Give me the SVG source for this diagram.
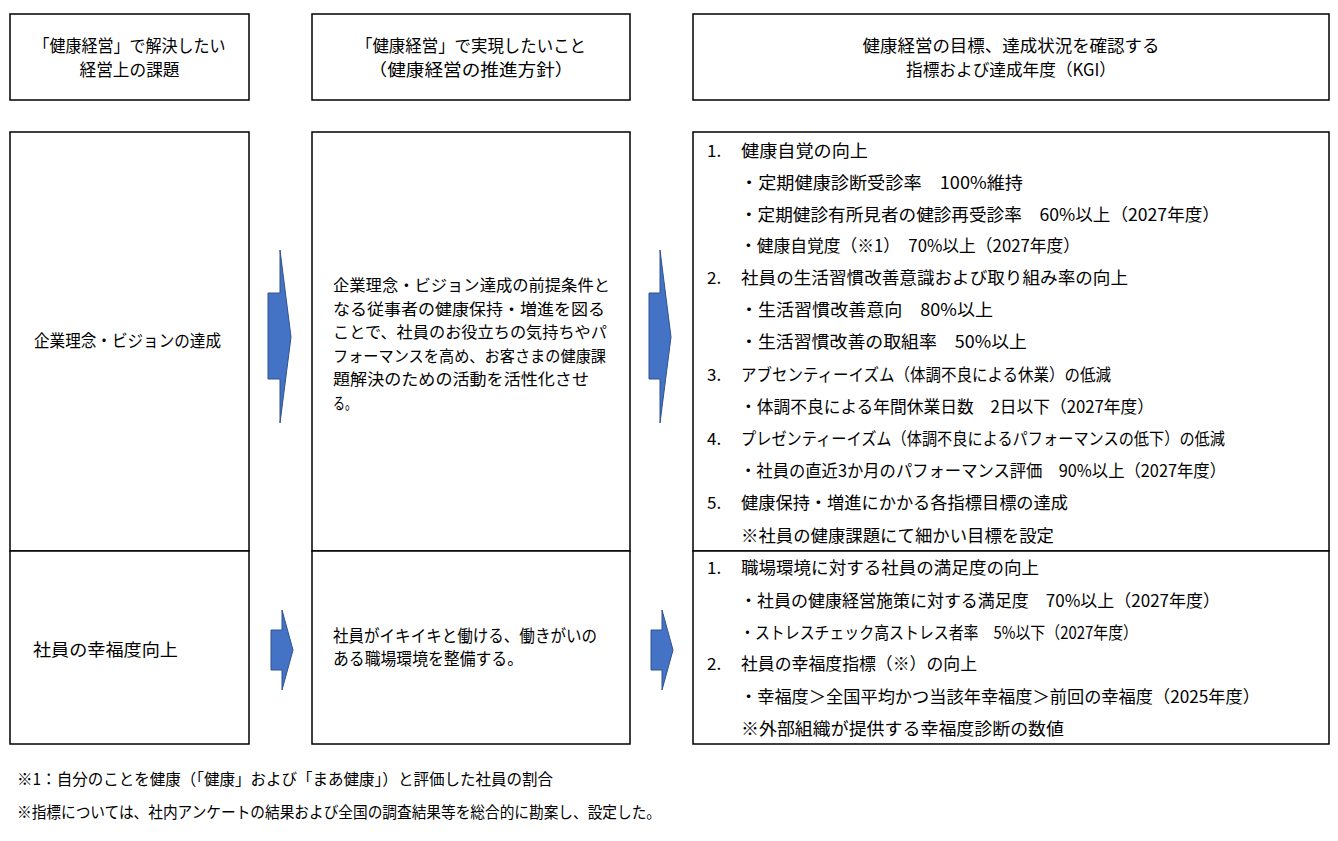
<svg xmlns="http://www.w3.org/2000/svg" width="1338" height="841" viewBox="0 0 1338 841">
<style>
.box{fill:#fff;stroke:#000;stroke-width:1.5}
.t{font-family:"Noto Sans CJK JP","Noto Sans",sans-serif;font-size:17px;fill:#000}
.m{font-family:"Noto Sans CJK JP","Noto Sans",sans-serif;font-size:16px;fill:#000}
.fn{font-family:"Noto Sans CJK JP","Noto Sans",sans-serif;font-size:16px;fill:#000}
.c{text-anchor:middle}
.arrow{fill:#4472C4;stroke:#2F528F;stroke-width:1}
</style>
<rect width="1338" height="841" fill="#fff"/>
<g id="header1">
<rect class="box" x="10" y="14" width="239" height="86"/>
<text class="t c" x="129.5" y="52" textLength="192" lengthAdjust="spacingAndGlyphs">「健康経営」で解決したい</text>
<text class="t c" x="129.5" y="76" textLength="100" lengthAdjust="spacingAndGlyphs">経営上の課題</text>
</g>
<g id="header2">
<rect class="box" x="312" y="14" width="318" height="86"/>
<text class="t c" x="471" y="52" textLength="230" lengthAdjust="spacingAndGlyphs">「健康経営」で実現したいこと</text>
<text class="t c" x="471" y="76" textLength="205" lengthAdjust="spacingAndGlyphs">（健康経営の推進方針）</text>
</g>
<g id="header3">
<rect class="box" x="693" y="14" width="636" height="86"/>
<text class="t c" x="1011" y="52" textLength="297" lengthAdjust="spacingAndGlyphs">健康経営の目標、達成状況を確認する</text>
<text class="t c" x="1011" y="76" textLength="210" lengthAdjust="spacingAndGlyphs">指標および達成年度（KGI）</text>
</g>
<g id="issue1">
<rect class="box" x="10" y="132" width="239" height="419"/>
<text class="t" x="34" y="347" textLength="187" lengthAdjust="spacingAndGlyphs">企業理念・ビジョンの達成</text>
</g>
<g id="issue2">
<rect class="box" x="10" y="551" width="239" height="193"/>
<text class="t" x="33" y="656" textLength="145" lengthAdjust="spacingAndGlyphs">社員の幸福度向上</text>
</g>
<g id="policy1">
<rect class="box" x="312" y="132" width="318" height="419"/>
<text class="m" x="333" y="291" textLength="277" lengthAdjust="spacingAndGlyphs">企業理念・ビジョン達成の前提条件と</text>
<text class="m" x="333" y="314.5" textLength="272" lengthAdjust="spacingAndGlyphs">なる従事者の健康保持・増進を図る</text>
<text class="m" x="333" y="338" textLength="274" lengthAdjust="spacingAndGlyphs">ことで、社員のお役立ちの気持ちやパ</text>
<text class="m" x="333" y="361.5" textLength="273" lengthAdjust="spacingAndGlyphs">フォーマンスを高め、お客さまの健康課</text>
<text class="m" x="333" y="385" textLength="256" lengthAdjust="spacingAndGlyphs">題解決のための活動を活性化させ</text>
<text class="m" x="333" y="408.5" textLength="24" lengthAdjust="spacingAndGlyphs">る。</text>
</g>
<g id="policy2">
<rect class="box" x="312" y="551" width="318" height="193"/>
<text class="t" x="333" y="642" textLength="264" lengthAdjust="spacingAndGlyphs">社員がイキイキと働ける、働きがいの</text>
<text class="t" x="333" y="665" textLength="190" lengthAdjust="spacingAndGlyphs">ある職場環境を整備する。</text>
</g>
<g id="kgi1">
<rect class="box" x="693" y="132" width="636" height="419"/>
<text class="t" x="707" y="157">1.</text>
<text class="t" x="741" y="157" textLength="127" lengthAdjust="spacingAndGlyphs">健康自覚の向上</text>
<text class="t" x="740" y="189" textLength="283" lengthAdjust="spacingAndGlyphs">・定期健康診断受診率　100%維持</text>
<text class="t" x="740" y="221" textLength="480" lengthAdjust="spacingAndGlyphs">・定期健診有所見者の健診再受診率　60%以上（2027年度）</text>
<text class="t" x="740" y="252" textLength="340" lengthAdjust="spacingAndGlyphs">・健康自覚度（※1）　70%以上（2027年度）</text>
<text class="t" x="707" y="284">2.</text>
<text class="t" x="741" y="284" textLength="387" lengthAdjust="spacingAndGlyphs">社員の生活習慣改善意識および取り組み率の向上</text>
<text class="t" x="740" y="316" textLength="253" lengthAdjust="spacingAndGlyphs">・生活習慣改善意向　80%以上</text>
<text class="t" x="740" y="348" textLength="287" lengthAdjust="spacingAndGlyphs">・生活習慣改善の取組率　50%以上</text>
<text class="t" x="707" y="381">3.</text>
<text class="t" x="741" y="381" textLength="370" lengthAdjust="spacingAndGlyphs">アブセンティーイズム（体調不良による休業）の低減</text>
<text class="t" x="740" y="413" textLength="414" lengthAdjust="spacingAndGlyphs">・体調不良による年間休業日数　2日以下（2027年度）</text>
<text class="t" x="707" y="445">4.</text>
<text class="t" x="741" y="445" textLength="484" lengthAdjust="spacingAndGlyphs">プレゼンティーイズム（体調不良によるパフォーマンスの低下）の低減</text>
<text class="t" x="740" y="477" textLength="486" lengthAdjust="spacingAndGlyphs">・社員の直近3か月のパフォーマンス評価　90%以上（2027年度）</text>
<text class="t" x="707" y="509">5.</text>
<text class="t" x="741" y="509" textLength="327" lengthAdjust="spacingAndGlyphs">健康保持・増進にかかる各指標目標の達成</text>
<text class="t" x="741" y="542" textLength="313" lengthAdjust="spacingAndGlyphs">※社員の健康課題にて細かい目標を設定</text>
</g>
<g id="kgi2">
<rect class="box" x="693" y="551" width="636" height="193"/>
<text class="t" x="707" y="574">1.</text>
<text class="t" x="741" y="574" textLength="298" lengthAdjust="spacingAndGlyphs">職場環境に対する社員の満足度の向上</text>
<text class="t" x="740" y="607" textLength="480" lengthAdjust="spacingAndGlyphs">・社員の健康経営施策に対する満足度　70%以上（2027年度）</text>
<text class="t" x="740" y="639" textLength="398" lengthAdjust="spacingAndGlyphs">・ストレスチェック高ストレス者率　5%以下（2027年度）</text>
<text class="t" x="707" y="670">2.</text>
<text class="t" x="741" y="670" textLength="236" lengthAdjust="spacingAndGlyphs">社員の幸福度指標（※）の向上</text>
<text class="t" x="740" y="703" textLength="520" lengthAdjust="spacingAndGlyphs">・幸福度＞全国平均かつ当該年幸福度＞前回の幸福度（2025年度）</text>
<text class="t" x="741" y="735" textLength="323" lengthAdjust="spacingAndGlyphs">※外部組織が提供する幸福度診断の数値</text>
</g>
<g id="connectors">
<polygon class="arrow" points="268,293 280,293 280,250 291,337 280,423 280,379 268,379"/>
<polygon class="arrow" points="649,293 660,293 660,250 671,337 660,423 660,379 649,379"/>
<polygon class="arrow" points="271,630 282,630 282,610 293,650 282,690 282,670 271,670"/>
<polygon class="arrow" points="651,630 662,630 662,610 673,650 662,690 662,670 651,670"/>
</g>
<g id="footnotes">
<text class="fn" x="17" y="785" textLength="536" lengthAdjust="spacingAndGlyphs">※1：自分のことを健康（「健康」および「まあ健康」）と評価した社員の割合</text>
<text class="fn" x="17" y="818" textLength="644" lengthAdjust="spacingAndGlyphs">※指標については、社内アンケートの結果および全国の調査結果等を総合的に勘案し、設定した。</text>
</g>
</svg>
